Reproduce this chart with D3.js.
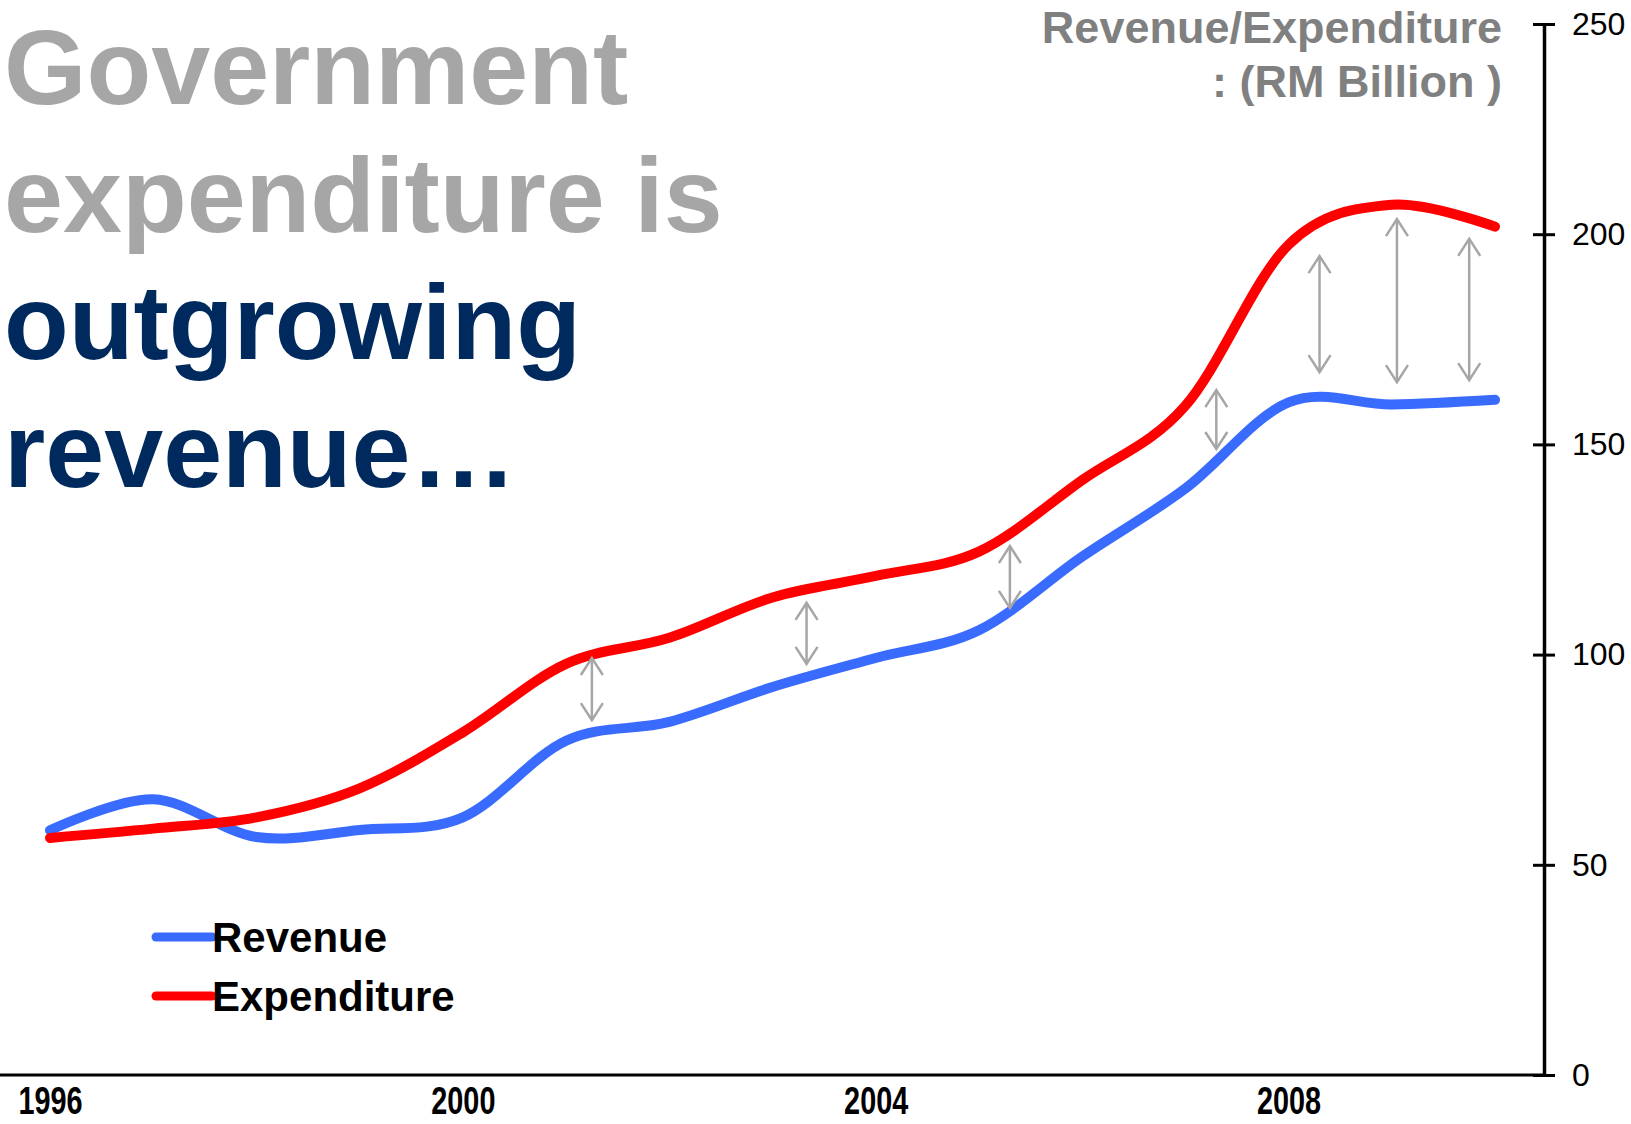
<!DOCTYPE html>
<html>
<head>
<meta charset="utf-8">
<script src="https://cdnjs.cloudflare.com/ajax/libs/d3/7.8.5/d3.min.js"></script>
<style>
  body { margin: 0; background: #fff; }
  svg { display: block; }
  text { font-family: "Liberation Sans", Arial, sans-serif; }
</style>
</head>
<body>
<svg id="canvas" width="1631" height="1124"></svg>
<script>
// data (RM billion)
let years = [1996, 1997, 1998, 1999, 2000, 2001, 2002, 2003, 2004, 2005, 2006, 2007, 2008, 2009, 2010]
let revenue = [58.2, 65.6, 56.6, 58.3, 61.3, 79.5, 84.0, 92.3, 99.2, 105.8, 123.3, 139.5, 160.0, 159.5, 160.6]
let expenditure = [56.4, 58.6, 61.3, 68.2, 81.5, 97.8, 104.0, 113.6, 118.7, 124.5, 141.5, 159.2, 197.5, 207.0, 201.8]
let xTicks = [1996, 2000, 2004, 2008]
let yTicks = [0, 50, 100, 150, 200, 250]

// gap arrows: year position, top value, bottom value
let gapYears = [2001.25, 2003.33, 2005.3, 2007.3, 2008.3, 2009.05, 2009.75]
let gapTop = [99.2, 112.3, 125.8, 162.9, 194.8, 203.6, 198.9]
let gapBottom = [84.4, 97.8, 111.1, 148.9, 167.2, 164.8, 165.3]

let titleLines = ["Government", "expenditure is", "outgrowing", "revenue…"]
let titleColors = ["#a6a6a6", "#a6a6a6", "#002a5e", "#002a5e"]

let canvas = d3.select("#canvas")

let x = d3.scaleLinear().domain([1996, 2010]).range([50, 1495])
let y = d3.scaleLinear().domain([0, 250]).range([1075, 24])
let axisX = 1544

// big headline
canvas.selectAll(".headline").data(titleLines)
    .enter()
    .append("text")
    .attr("class", "headline")
    .attr("x", 4)
    .attr("y", (d, i) => 104 + i * 127.5)
    .attr("fill", (d, i) => titleColors[i])
    .style("font-size", "106px")
    .style("font-weight", "bold")
    .text(d => d)

// axis title
canvas.append("text")
    .attr("x", 1502).attr("y", 43)
    .attr("text-anchor", "end")
    .attr("fill", "#808080")
    .style("font-size", "45px").style("font-weight", "bold")
    .text("Revenue/Expenditure")
canvas.append("text")
    .attr("x", 1502).attr("y", 97)
    .attr("text-anchor", "end")
    .attr("fill", "#808080")
    .style("font-size", "45px").style("font-weight", "bold")
    .text(": (RM Billion )")

// y axis on the right
let yAxis = canvas.append("g")
    .attr("transform", "translate(" + axisX + ",0)")
    .call(d3.axisRight(y).tickValues(yTicks).tickSize(0).tickPadding(28))
yAxis.select(".domain").attr("stroke", "#000").attr("stroke-width", 3.5)
yAxis.selectAll(".tick text")
    .attr("fill", "#000")
    .style("font-size", "32px")
    .style("font-family", "'Liberation Sans', Arial, sans-serif")
yAxis.selectAll(".tick").append("line")
    .attr("x1", -11).attr("x2", 11)
    .attr("stroke", "#000").attr("stroke-width", 3)

// x baseline + labels
canvas.append("line")
    .attr("x1", 0).attr("x2", axisX)
    .attr("y1", y(0)).attr("y2", y(0))
    .attr("stroke", "#000").attr("stroke-width", 3)

let xAxis = canvas.append("g")
    .attr("transform", "translate(0," + y(0) + ")")
    .call(d3.axisBottom(x).tickValues(xTicks).tickSize(0).tickPadding(11).tickFormat(d3.format("d")))
xAxis.select(".domain").remove()
xAxis.selectAll(".tick text")
    .attr("fill", "#000")
    .attr("transform", "scale(0.74,1)")
    .style("font-size", "39px")
    .style("font-weight", "bold")
    .style("font-family", "'Liberation Sans Narrow', 'Arial Narrow', 'Liberation Sans', sans-serif")

// series
let line = d3.line()
    .x((d, i) => x(years[i]))
    .y(d => y(d))
    .curve(d3.curveCardinal.tension(0))

let drawSeries = (values, color) => {
    canvas.append("path")
        .datum(values)
        .attr("d", line)
        .attr("fill", "none")
        .attr("stroke", color)
        .attr("stroke-width", 10)
        .attr("stroke-linecap", "round")
        .attr("stroke-linejoin", "round")
}
drawSeries(revenue, "#3a6bff")
drawSeries(expenditure, "#ff0000")

// gap arrows
let head = (px, py, dir) => {
    return "M" + (px - 11) + "," + (py + dir * 17) + " L" + px + "," + py + " L" + (px + 11) + "," + (py + dir * 17)
}
let arrows = canvas.selectAll(".gap").data(gapYears)
    .enter()
    .append("g")
    .attr("class", "gap")
    .attr("stroke", "#a6a6a6")
    .attr("stroke-width", 2.5)
    .attr("fill", "none")
arrows.append("line")
    .attr("x1", d => x(d)).attr("x2", d => x(d))
    .attr("y1", (d, i) => y(gapTop[i]))
    .attr("y2", (d, i) => y(gapBottom[i]))
arrows.append("path")
    .attr("d", (d, i) => head(x(d), y(gapTop[i]), 1))
arrows.append("path")
    .attr("d", (d, i) => head(x(d), y(gapBottom[i]), -1))

// legend
let legendItems = [["Revenue", "#3a6bff"], ["Expenditure", "#ff0000"]]
let legend = canvas.selectAll(".legend").data(legendItems)
    .enter()
    .append("g")
    .attr("class", "legend")
    .attr("transform", (d, i) => "translate(156," + (937 + i * 59) + ")")
legend.append("line")
    .attr("x1", 0).attr("x2", 56)
    .attr("stroke", d => d[1])
    .attr("stroke-width", 9)
    .attr("stroke-linecap", "round")
legend.append("text")
    .attr("x", 56).attr("y", 15)
    .attr("fill", "#000")
    .style("font-size", "42px").style("font-weight", "bold")
    .text(d => d[0])
</script>
</body>
</html>
